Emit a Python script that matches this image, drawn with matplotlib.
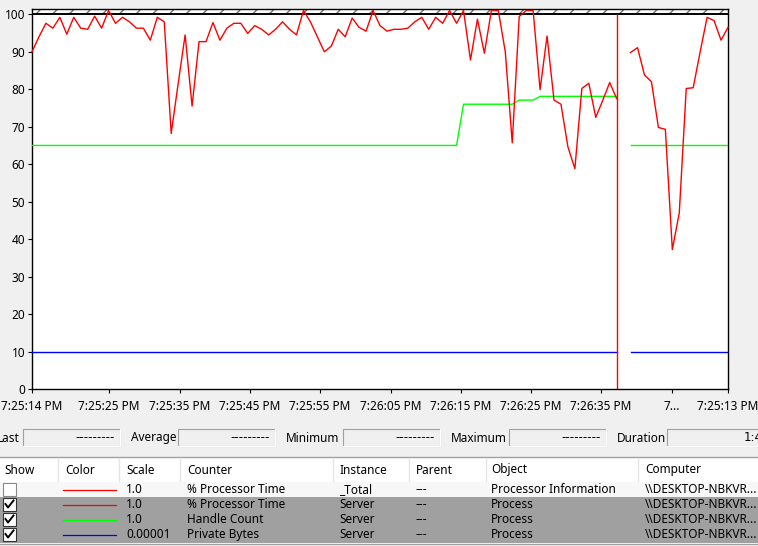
import numpy as np
import matplotlib
matplotlib.use("Agg")
import matplotlib.pyplot as plt
from matplotlib.patches import Rectangle

plt.rcParams['font.family'] = ['Noto Sans', 'DejaVu Sans']

# ---- data (one sample per second, 100 samples, display wraps at the cursor) ----
cursor_idx = 84
red_left = [90, 94, 97.6, 96.3, 99.2, 94.7, 99.2, 96.3, 96, 99.5,
            96.3, 101, 97.6, 99.2, 98, 96.3, 96.3, 93.1, 99.2, 98,
            68.2, 81.5, 94.5, 75.5, 92.7, 92.7, 97.8, 93.1, 96.3, 97.6,
            97.6, 94.9, 97, 96, 94.5, 96, 98, 96, 94.5, 101,
            98, 94, 90, 91.5, 96, 94, 99, 96.5, 95.5, 101,
            97, 95.5, 96, 96, 96.3, 98, 99.2, 96, 99.2, 97.6,
            101, 97.6, 101, 87.8, 98.7, 89.6, 101, 101, 90, 65.7,
            99.4, 101, 101, 79.9, 94.2, 77.1, 76, 64.6, 58.8, 80.2,
            81.6, 72.5, 77, 81.8, 77.5]
red_right = [89.8, 91.1, 83.8, 82, 69.8, 69.3, 37.2, 47, 80.2, 80.4,
             90, 99.2, 98.3, 93.1, 96.5]
green_left = [65] * 62 + [76] * 8 + [77.1] * 3 + [78.1] * 12
green_right = [65] * 15
blue_left = [10] * 85
blue_right = [10] * 15

tick_pos = [0, 11.06, 21.26, 31.32, 41.38, 51.58, 61.64, 71.7, 81.75, 91.95, 100]
tick_labels = ["7:25:14 PM", "7:25:25 PM", "7:25:35 PM", "7:25:45 PM", "7:25:55 PM",
               "7:26:05 PM", "7:26:15 PM", "7:26:25 PM", "7:26:35 PM", "7...", "7:25:13 PM"]

stat_names = ["Last", "Average", "Minimum", "Maximum", "Duration"]
stat_values = ["---------", "---------", "---------", "---------", "1:40"]

headers = ["Show", "Color", "Scale", "Counter", "Instance", "Parent", "Object", "Computer"]
rows_checked = [False, True, True, True]
rows_color = ["#FF0000", "#FF0000", "#00FF00", "#0000FF"]
rows_scale = ["1.0", "1.0", "1.0", "0.00001"]
rows_counter = ["% Processor Time", "% Processor Time", "Handle Count", "Private Bytes"]
rows_instance = ["_Total", "Server", "Server", "Server"]
rows_parent = ["---", "---", "---", "---"]
rows_object = ["Processor Information", "Process", "Process", "Process"]
rows_computer = ["\\\\DESKTOP-NBKVR..."] * 4

W, H = 758, 546
BG = "#F0F0F0"

fig = plt.figure(figsize=(W / 100, H / 100), dpi=100, facecolor=BG)

# overlay in pixel coordinates for the window chrome
ui = fig.add_axes([0, 0, 1, 1], zorder=0)
ui.set_xlim(0, W)
ui.set_ylim(H, 0)
ui.axis('off')

# ---- graph ----
left, right, top, bottom = 32, 728, 9.3, 389
ax = fig.add_axes([left / W, 1 - bottom / H, (right - left) / W, (bottom - top) / H], zorder=2)
ax.set_facecolor("white")
ax.set_xlim(0, 100)
ymax = 100 + (14.3 - top) / 3.747
ax.set_ylim(0, ymax)

ax.add_patch(Rectangle((0, 100), 100, ymax - 100, facecolor="white", edgecolor="#707070",
                       hatch="//", lw=0, zorder=1))
ax.axhline(100, color="black", lw=1.4, zorder=2)

lw = 1.0
x_left = np.arange(len(red_left))
x_right = np.arange(101 - len(red_right), 101)
ax.plot(x_left, blue_left, color="#0000FF", lw=lw, zorder=3)
ax.plot(x_right, blue_right, color="#0000FF", lw=lw, zorder=3)
ax.plot(x_left, green_left, color="#00FF00", lw=lw, zorder=4)
ax.plot(x_right, green_right, color="#00FF00", lw=lw, zorder=4)
ax.plot(x_left, red_left, color="#FF0000", lw=lw, zorder=5, clip_on=False)
ax.plot(x_right, red_right, color="#FF0000", lw=lw, zorder=5, clip_on=False)
ax.vlines(cursor_idx, 0, 100, color="#FF0000", lw=1.0, zorder=6)

ax.set_yticks(range(0, 101, 10))
ax.set_xticks(tick_pos)
ax.set_xticklabels(tick_labels)
ax.tick_params(axis='both', direction='out', length=3, width=0.8, color="black",
               labelsize=8.5, labelcolor="black")
ax.tick_params(axis='x', pad=5)
ax.tick_params(axis='y', pad=2)
for s in ax.spines.values():
    s.set_color("black")
    s.set_linewidth(1.0)

# ---- statistics row ----
label_x = [-3, 131, 286, 451, 617]
box_x = [(23, 120), (178, 275), (343, 440), (509, 606), (667, 775)]
for name, val, lx, (bx0, bx1) in zip(stat_names, stat_values, label_x, box_x):
    ui.text(lx, 438, name, fontsize=8.5, va='center', ha='left')
    ui.add_patch(Rectangle((bx0, 429), bx1 - bx0, 17, facecolor=BG, edgecolor="#A0A0A0", lw=0.8))
    ui.plot([bx0, bx1], [446, 446], color="white", lw=0.8)
    ui.plot([bx1, bx1], [429, 446], color="white", lw=0.8)
    ui.text(bx1 - 5, 437.5, val, fontsize=8.5, va='center', ha='right',
            family=['DejaVu Sans'])

# ---- counter list ----
col_x = [4, 65, 126, 187, 339, 416, 491, 645]
sep_x = [58, 119, 180, 333, 409, 486, 638]
ui.add_patch(Rectangle((0, 457), W, 88, facecolor="white", edgecolor="none"))
ui.plot([0, W], [457, 457], color="#A0A0A0", lw=1)
for sx in sep_x:
    ui.plot([sx, sx], [458, 481], color="#E5E5E5", lw=1)
for hx, h in zip(col_x, headers):
    ui.text(hx, 470, h, fontsize=8.5, va='center', ha='left')

row_y = [489.5, 504.5, 519.5, 534.5]
ui.add_patch(Rectangle((0, 482), W, 15, facecolor="#F7F7F7", edgecolor="none"))
ui.add_patch(Rectangle((0, 497), W, 45.5, facecolor="#A0A0A0", edgecolor="none"))
ui.plot([0, W], [544, 544], color="#A0A0A0", lw=1)
for i, y in enumerate(row_y):
    ui.add_patch(Rectangle((3, y - 6.5), 13, 13, facecolor="white",
                           edgecolor="#333333" if rows_checked[i] else "#8A8A8A", lw=0.8))
    if rows_checked[i]:
        ui.plot([5.5, 8, 13.5], [y - 0.5, y + 3, y - 4], color="black", lw=1.4)
    ui.plot([63, 116], [y, y], color=rows_color[i], lw=0.9)
    for cx, txt in zip(col_x[2:], [rows_scale[i], rows_counter[i], rows_instance[i],
                                   rows_parent[i], rows_object[i], rows_computer[i]]):
        ui.text(cx, y, txt, fontsize=8.5, va='center', ha='left')

fig.savefig("out.png", dpi=100, facecolor=BG)
